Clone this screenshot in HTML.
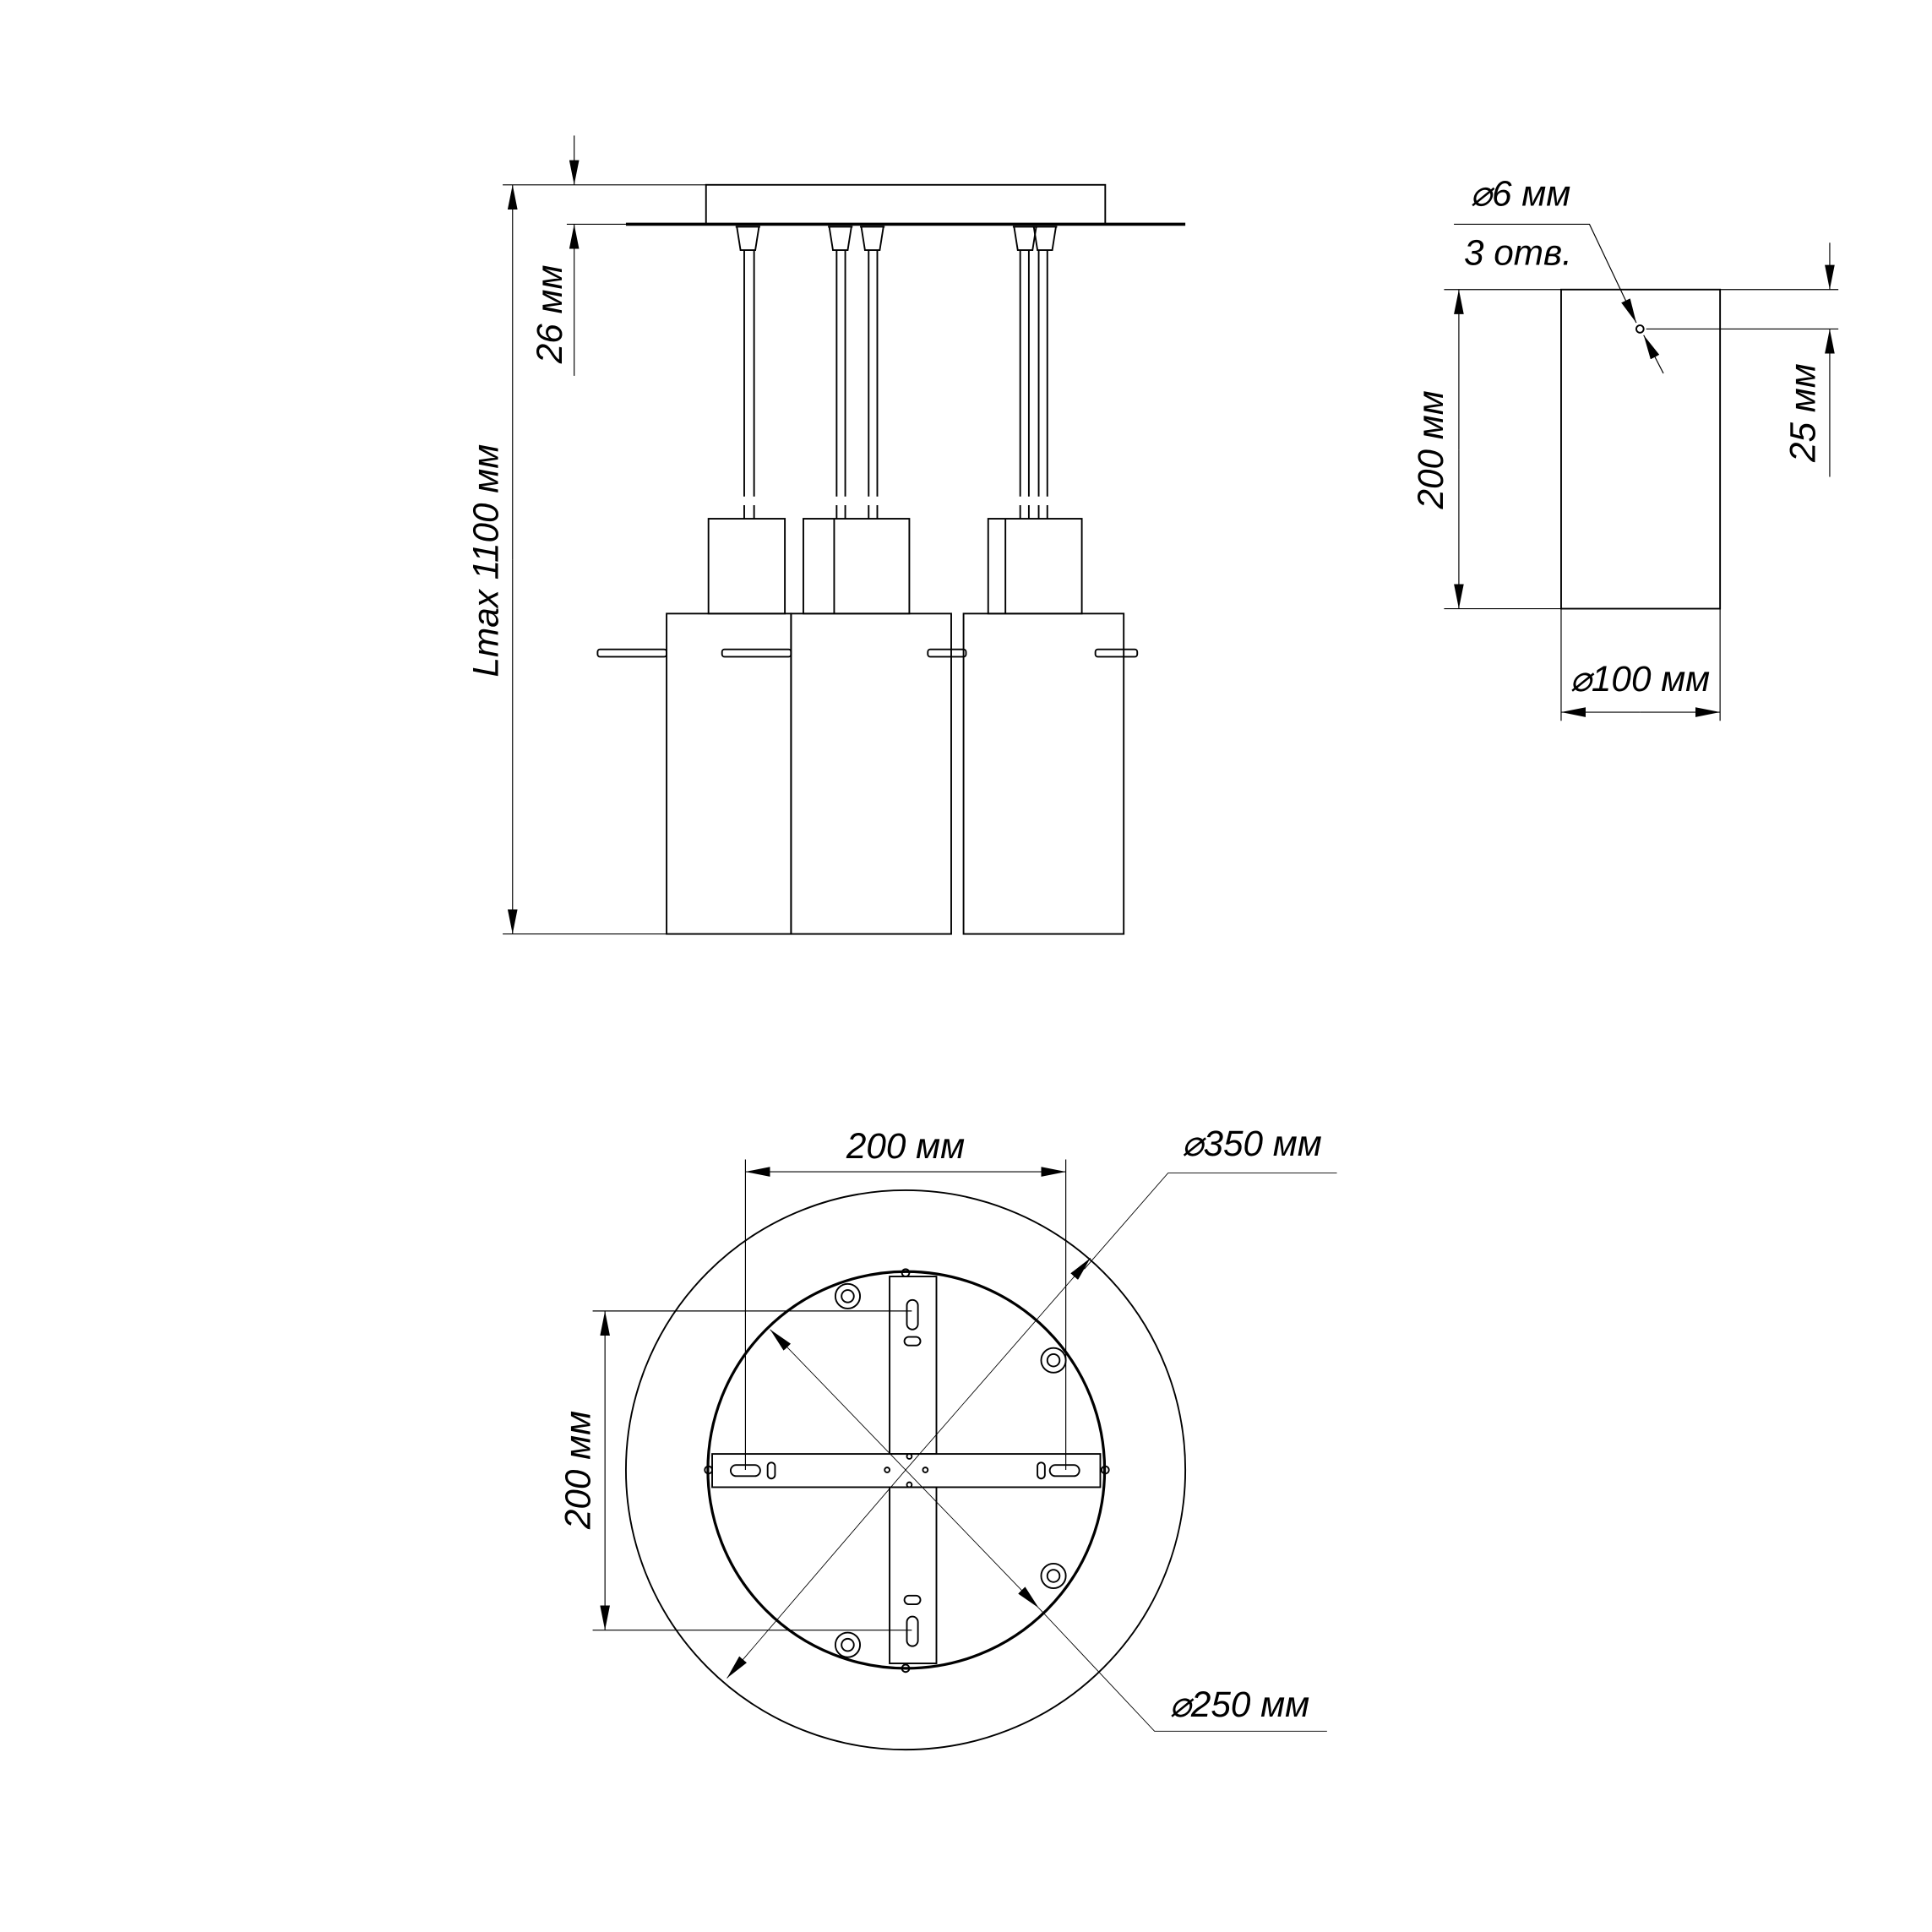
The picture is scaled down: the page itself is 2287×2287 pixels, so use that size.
<!DOCTYPE html>
<html><head><meta charset="utf-8"><style>
html,body{margin:0;padding:0;background:#fff;}
svg{display:block;}
text{font-family:"Liberation Sans",sans-serif;font-style:italic;font-size:29px;fill:#000;}
</style></head><body>
<svg width="2287" height="2287" viewBox="0 0 1568 1568" xmlns="http://www.w3.org/2000/svg">
<defs>
<marker id="a" viewBox="0 0 20 8" refX="20" refY="4" markerWidth="20" markerHeight="8" markerUnits="userSpaceOnUse" orient="auto"><path d="M0,0 L20,4 L0,8 z" fill="#000"/></marker>
</defs>
<g fill="none" stroke="#000" stroke-width="1.3">
<!-- top plate -->
<rect x="573" y="150" width="324" height="32"/>
<line x1="508" y1="182" x2="962" y2="182" stroke-width="2.5"/>
<!-- 26 dim -->
<line x1="408" y1="150" x2="573" y2="150" stroke-width="0.8"/>
<line x1="460" y1="182" x2="508" y2="182" stroke-width="0.8"/>
<line x1="466" y1="110" x2="466" y2="150" stroke-width="0.8" marker-end="url(#a)"/>
<line x1="466" y1="305" x2="466" y2="182" stroke-width="0.8" marker-end="url(#a)"/>
<!-- Lmax -->
<line x1="416" y1="454" x2="416" y2="150" stroke-width="0.8" marker-end="url(#a)"/>
<line x1="416" y1="454" x2="416" y2="758" stroke-width="0.8" marker-end="url(#a)"/>
<line x1="408" y1="758" x2="541" y2="758" stroke-width="0.8"/>
<!-- caps -->
<g>
<path d="M597,184 h20 M598,184 l3,19 h12 l3,-19"/>
<path d="M672,184 h20 M673,184 l3,19 h12 l3,-19"/>
<path d="M698,184 h20 M699,184 l3,19 h12 l3,-19"/>
<path d="M822,184 h20 M823,184 l3,19 h12 l3,-19"/>
<path d="M838,184 h20 M839,184 l3,19 h12 l3,-19"/>
</g>
<!-- cables -->
<path d="M604,203 V403 M612,203 V403 M604,410 V421 M612,410 V421"/>
<path d="M679,203 V403 M686,203 V403 M679,410 V421 M686,410 V421"/>
<path d="M705,203 V403 M712,203 V403 M705,410 V421 M712,410 V421"/>
<path d="M828,203 V403 M835,203 V403 M828,410 V421 M835,410 V421"/>
<path d="M843,203 V403 M850,203 V403 M843,410 V421 M850,410 V421"/>
<!-- upper boxes -->
<rect x="575" y="421" width="62" height="77"/>
<rect x="652" y="421" width="86" height="77"/><line x1="677" y1="421" x2="677" y2="498"/>
<rect x="802" y="421" width="76" height="77"/><line x1="816" y1="421" x2="816" y2="498"/>
<!-- shades -->
<rect x="541" y="498" width="101" height="260"/>
<rect x="642" y="498" width="130" height="260"/>
<rect x="782" y="498" width="130" height="260"/>
<!-- pins -->
<rect x="485" y="527" width="56" height="6" rx="2"/>
<rect x="586" y="527" width="56" height="6" rx="2"/>
<rect x="753" y="527" width="31" height="6" rx="2"/>
<rect x="889" y="527" width="34" height="6" rx="2"/>

<!-- right view -->
<rect x="1267" y="235" width="129" height="259"/>
<circle cx="1331" cy="267" r="3"/>
<line x1="1172" y1="235" x2="1267" y2="235" stroke-width="0.8"/>
<line x1="1172" y1="494" x2="1267" y2="494" stroke-width="0.8"/>
<line x1="1184" y1="365" x2="1184" y2="235" stroke-width="0.8" marker-end="url(#a)"/>
<line x1="1184" y1="365" x2="1184" y2="494" stroke-width="0.8" marker-end="url(#a)"/>
<line x1="1396" y1="235" x2="1492" y2="235" stroke-width="0.8"/>
<line x1="1336" y1="267" x2="1492" y2="267" stroke-width="0.8"/>
<line x1="1485" y1="197" x2="1485" y2="235" stroke-width="0.8" marker-end="url(#a)"/>
<line x1="1485" y1="387" x2="1485" y2="267" stroke-width="0.8" marker-end="url(#a)"/>
<line x1="1267" y1="494" x2="1267" y2="585" stroke-width="0.8"/>
<line x1="1396" y1="494" x2="1396" y2="585" stroke-width="0.8"/>
<line x1="1331" y1="578" x2="1267" y2="578" stroke-width="0.8" marker-end="url(#a)"/>
<line x1="1331" y1="578" x2="1396" y2="578" stroke-width="0.8" marker-end="url(#a)"/>
<polyline points="1180,182 1290,182 1328,262" stroke-width="0.8" marker-end="url(#a)"/>
<line x1="1350" y1="303" x2="1334" y2="272" stroke-width="0.8" marker-end="url(#a)"/>

<!-- bottom view -->
<circle cx="735" cy="1193" r="227"/>
<circle cx="735.5" cy="1193" r="161" stroke-width="2.2"/>
<rect x="578" y="1180" width="315" height="27"/>
<rect x="722" y="1036" width="38" height="144"/>
<rect x="722" y="1207" width="38" height="143"/>
<rect x="593" y="1189" width="24" height="9" rx="4.5"/>
<rect x="623" y="1187" width="6" height="13" rx="3"/>
<rect x="852" y="1189" width="24" height="9" rx="4.5"/>
<rect x="842" y="1187" width="6" height="13" rx="3"/>
<rect x="736" y="1055" width="9" height="24" rx="4.5"/>
<rect x="734" y="1085" width="13" height="7" rx="3.5"/>
<rect x="736" y="1312" width="9" height="24" rx="4.5"/>
<rect x="734" y="1295" width="13" height="7" rx="3.5"/>
<circle cx="720" cy="1193" r="2"/><circle cx="751" cy="1193" r="2"/><circle cx="738" cy="1182" r="2"/><circle cx="738" cy="1205" r="2"/>
<circle cx="735" cy="1033" r="3"/><circle cx="735" cy="1354" r="3"/><circle cx="575" cy="1193" r="3"/><circle cx="897" cy="1193" r="3"/>
<g>
<circle cx="688" cy="1052" r="10"/><circle cx="688" cy="1052" r="5"/>
<circle cx="855" cy="1104" r="10"/><circle cx="855" cy="1104" r="5"/>
<circle cx="855" cy="1279" r="10"/><circle cx="855" cy="1279" r="5"/>
<circle cx="688" cy="1335" r="10"/><circle cx="688" cy="1335" r="5"/>
</g>
<!-- dims -->
<line x1="605" y1="941" x2="605" y2="1193" stroke-width="0.8"/>
<line x1="865" y1="941" x2="865" y2="1193" stroke-width="0.8"/>
<line x1="735" y1="951" x2="605" y2="951" stroke-width="0.8" marker-end="url(#a)"/>
<line x1="735" y1="951" x2="865" y2="951" stroke-width="0.8" marker-end="url(#a)"/>
<line x1="481" y1="1064" x2="740" y2="1064" stroke-width="0.8"/>
<line x1="481" y1="1323" x2="740" y2="1323" stroke-width="0.8"/>
<line x1="491" y1="1193" x2="491" y2="1064" stroke-width="0.8" marker-end="url(#a)"/>
<line x1="491" y1="1193" x2="491" y2="1323" stroke-width="0.8" marker-end="url(#a)"/>
<line x1="735" y1="1193" x2="590" y2="1362" stroke-width="0.6" marker-end="url(#a)"/>
<polyline points="735,1193 885,1021" stroke-width="0.6" marker-end="url(#a)"/>
<polyline points="880,1030 948,952 1085,952" stroke-width="0.6"/>
<line x1="735" y1="1193" x2="625" y2="1079" stroke-width="0.6" marker-end="url(#a)"/>
<line x1="735" y1="1193" x2="843" y2="1305" stroke-width="0.6" marker-end="url(#a)"/>
<polyline points="843,1305 937,1405 1077,1405" stroke-width="0.6"/>
</g>
<text x="0" y="0" transform="translate(456,255) rotate(-90)" text-anchor="middle">26 мм</text>
<text x="0" y="0" transform="translate(404,455) rotate(-90)" text-anchor="middle">Lmax 1100 мм</text>
<text x="0" y="0" transform="translate(1171,365) rotate(-90)" text-anchor="middle">200 мм</text>
<text x="0" y="0" transform="translate(1473,335) rotate(-90)" text-anchor="middle">25 мм</text>
<text x="1331" y="561" text-anchor="middle">⌀100 мм</text>
<text x="1234" y="167" text-anchor="middle">⌀6 мм</text>
<text x="1232" y="215" text-anchor="middle">3 отв.</text>
<text x="735" y="940" text-anchor="middle">200 мм</text>
<text x="0" y="0" transform="translate(479,1193) rotate(-90)" text-anchor="middle">200 мм</text>
<text x="1016" y="938" text-anchor="middle">⌀350 мм</text>
<text x="1006" y="1393" text-anchor="middle">⌀250 мм</text>
</svg>
</body></html>
